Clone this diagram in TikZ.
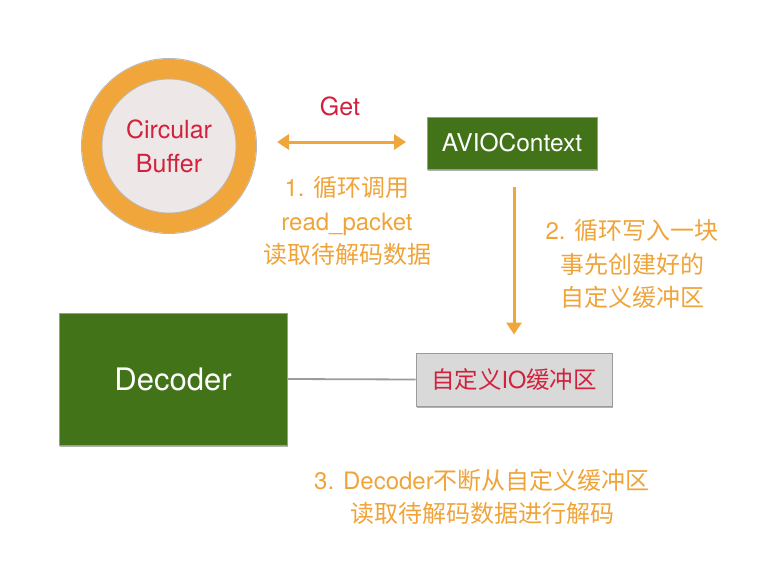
\documentclass[tikz,border=0pt]{standalone}
\usepackage{fontspec}
\setmainfont{TeX Gyre Heros}
\newfontfamily\cjk{Noto Sans CJK SC}
\usetikzlibrary{arrows.meta,shadows}
\definecolor{ring}{HTML}{F0A63A}
\definecolor{inner}{HTML}{EEE7E7}
\definecolor{dgreen}{HTML}{437318}
\definecolor{tred}{HTML}{D2213C}
\definecolor{torange}{HTML}{EFA43A}
\definecolor{boxgray}{HTML}{D9D9D9}
\definecolor{edgegray}{HTML}{9B9B9B}
\tikzset{
  greenbox/.style={draw=edgegray, line width=0.6pt, fill=dgreen, text=white, inner sep=0pt,
    drop shadow={shadow xshift=1pt, shadow yshift=-1.5pt, opacity=0.3, fill=black}},
  graybox/.style={draw=edgegray, line width=1pt, fill=boxgray, text=tred, inner sep=0pt,
    drop shadow={shadow xshift=1pt, shadow yshift=-1.5pt, opacity=0.3, fill=black}},
  otext/.style={text=torange, align=center, font=\fontsize{24}{33.5}\selectfont},
  oarrow/.style={draw=ring, line width=3pt, -{Triangle[width=15pt,length=12pt]}},
  obiarrow/.style={draw=ring, line width=3pt, {Triangle[width=15pt,length=12pt]}-{Triangle[width=15pt,length=12pt]}},
  glink/.style={draw=edgegray, line width=1.8pt},
}
\begin{document}
\begin{tikzpicture}[x=1pt,y=-1pt]
\useasboundingbox (0,0) rectangle (762,575);
% circular buffer
\draw[edgegray!70, line width=1pt] (169,146) circle (87.5);
\node[circle, minimum size=154pt, draw=ring, line width=20pt, fill=inner, text=tred, align=center,
  font=\fontsize{25}{34}\selectfont, inner sep=0pt] (buf) at (169,146) {Circular\\Buffer};
\draw[edgegray!70, line width=0.8pt] (buf.center) circle (67);
% Get
\node[text=tred, font=\fontsize{25}{28}\selectfont] (get) at (340,106) {Get};
\coordinate (g1) at (277,142);
\coordinate (g2) at (406,142);
\draw[obiarrow] (g1) -- (g2);
% AVIOContext
\node[greenbox, minimum width=170pt, minimum height=52pt, font=\fontsize{24.5}{28}\selectfont] (av) at (512,143) {AVIOContext};
% text 1
\node[otext] (t1) at (347,221) {1. {\cjk 循环调用}\\read\_packet\\{\cjk 读取待解码数据}};
% IO buffer
\node[graybox, minimum width=196pt, minimum height=53pt, font=\fontsize{23.5}{26}\selectfont] (io) at (514,379.5) {{\cjk 自定义}IO{\cjk 缓冲区}};
% vertical arrow
\draw[oarrow] ([yshift=-18pt]av.south -| io.north) -- ([yshift=18pt]io.north);
% text 2
\node[otext] (t2) at (632,264) {2. {\cjk 循环写入一块}\\{\cjk 事先创建好的}\\{\cjk 自定义缓冲区}};
% Decoder
\node[greenbox, minimum width=228pt, minimum height=132pt, font=\fontsize{31}{34}\selectfont] (dec) at (173,379) {Decoder};
\draw[glink] (dec.east) -- (io.west);
% text 3
\node[otext] (t3) at (482,497) {3. Decoder{\cjk 不断从自定义缓冲区}\\{\cjk 读取待解码数据进行解码}};
\end{tikzpicture}
\end{document}
